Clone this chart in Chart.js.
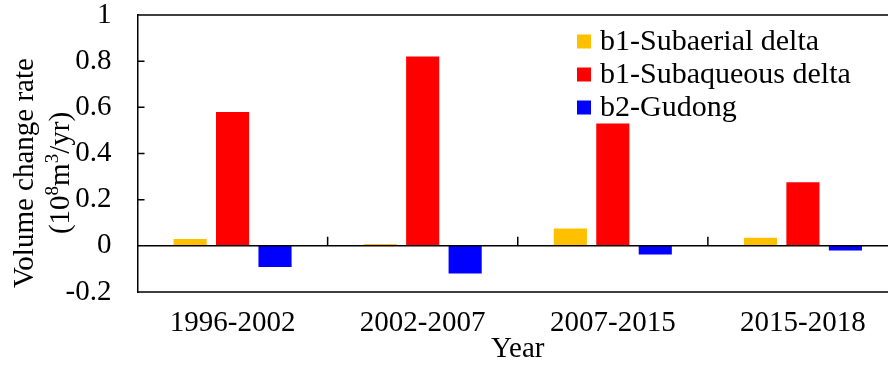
<!DOCTYPE html>
<html>
<head>
<meta charset="utf-8">
<script src="https://cdn.jsdelivr.net/npm/chart.js@4.4.1/dist/chart.umd.min.js"></script>
<style>
  html, body { margin:0; padding:0; background:#fff; overflow:hidden; }
  #wrap { width:888px; height:369px; overflow:hidden; }
</style>
</head>
<body>
<div id="wrap"><canvas id="chart" width="898" height="369"></canvas></div>
<script>
/* Volume change rate per period - grouped bars */
const periods = ['1996-2002', '2002-2007', '2007-2015', '2015-2018'];
const subaerial = [0.03, 0.008, 0.075, 0.035];
const subaqueous = [0.58, 0.82, 0.53, 0.275];
const gudong = [-0.092, -0.12, -0.038, -0.02];
const seriesNames = ['b1-Subaerial delta', 'b1-Subaqueous delta', 'b2-Gudong'];
const seriesColors = ['#FFC000', '#FF0000', '#0000FF'];
const yMin = -0.2, yMax = 1, yStep = 0.2;

const SERIF = '"Liberation Serif", "Times New Roman", serif';

// frame, zero line and inward tick marks
const framePlugin = {
  id: 'frame',
  afterDatasetsDraw(chart){
    const {ctx, chartArea:a, scales:{x, y}} = chart;
    ctx.save();
    ctx.strokeStyle = '#000'; ctx.lineWidth = 1.5;
    const zero = y.getPixelForValue(0);
    ctx.beginPath();
    ctx.moveTo(a.left, a.top); ctx.lineTo(a.right, a.top);
    ctx.moveTo(a.left, a.bottom); ctx.lineTo(a.right, a.bottom);
    ctx.moveTo(a.left, zero); ctx.lineTo(a.right, zero);
    y.ticks.forEach(t=>{
      const py = y.getPixelForValue(t.value);
      ctx.moveTo(a.left, py); ctx.lineTo(a.left + 7, py);
    });
    for(let i=1;i<periods.length;i++){
      const px = (x.getPixelForValue(i-1) + x.getPixelForValue(i)) / 2;
      ctx.moveTo(px, zero); ctx.lineTo(px, zero - 9);
    }
    ctx.stroke();
    ctx.restore();
  }
};

// legend inside the plot, top right
const legendPlugin = {
  id: 'boxLegend',
  afterDraw(chart){
    const {ctx} = chart;
    ctx.save();
    ctx.font = `30px ${SERIF}`;
    ctx.textBaseline = 'middle';
    chart.data.datasets.forEach((ds,i)=>{
      const cy = 41.5 + i*33;
      ctx.fillStyle = ds.backgroundColor;
      ctx.fillRect(577, cy - 7, 14, 14);
      ctx.fillStyle = '#000';
      ctx.fillText(ds.label, 600, cy + 1);
    });
    ctx.restore();
  }
};

// two-line rotated y title with superscripts
const yTitlePlugin = {
  id: 'yTitle',
  afterDraw(chart){
    const {ctx} = chart;
    const size = 29, sup = 19;
    const cy = 173;
    ctx.save();
    ctx.fillStyle = '#000';
    ctx.textBaseline = 'middle';
    ctx.font = `${size}px ${SERIF}`;
    ctx.translate(25, cy); ctx.rotate(-Math.PI/2);
    ctx.textAlign = 'center';
    ctx.fillText('Volume change rate', 0, 0);
    ctx.restore();

    const parts = [['(10',0],['8',1],['m',0],['3',1],['/yr)',0]];
    ctx.save();
    ctx.fillStyle = '#000';
    ctx.textBaseline = 'middle';
    const w = parts.reduce((s,[t,u])=>{ ctx.font = `${u?sup:size}px ${SERIF}`; return s + ctx.measureText(t).width; }, 0);
    ctx.translate(61, cy); ctx.rotate(-Math.PI/2);
    let xx = -w/2;
    parts.forEach(([t,u])=>{
      ctx.font = `${u?sup:size}px ${SERIF}`;
      ctx.fillText(t, xx, u ? -8 : 0);
      xx += ctx.measureText(t).width;
    });
    ctx.restore();
  }
};

const noPad = (s)=>{ s.paddingTop = 0; s.paddingBottom = 0; s.paddingLeft = 0; s.paddingRight = 0; };

new Chart(document.getElementById('chart'), {
  type: 'bar',
  data: {
    labels: periods,
    datasets: [
      { label: seriesNames[0], data: subaerial, backgroundColor: seriesColors[0] },
      { label: seriesNames[1], data: subaqueous, backgroundColor: seriesColors[1] },
      { label: seriesNames[2], data: gudong, backgroundColor: seriesColors[2] },
    ]
  },
  options: {
    responsive: false,
    animation: false,
    devicePixelRatio: 1,
    layout: { padding: { top: 15, right: 0, left: 0, bottom: 0 } },
    datasets: { bar: { categoryPercentage: 0.67, barPercentage: 0.78 } },
    plugins: { legend: { display: false }, tooltip: { enabled: false } },
    scales: {
      x: {
        grid: { display: false, drawTicks: false },
        border: { display: false },
        ticks: { color: '#000', font: { family: SERIF, size: 29 }, padding: 14, maxRotation: 0 },
        title: { display: true, text: 'Year', color: '#000', font: { family: SERIF, size: 29 }, padding: { top: 0, bottom: 2 } },
        afterFit: (s)=>{ s.height = 77; noPad(s); }
      },
      y: {
        min: yMin, max: yMax,
        grid: { display: false, drawTicks: false },
        border: { display: true, color: '#000', width: 1.5 },
        ticks: {
          stepSize: yStep, color: '#000', font: { family: SERIF, size: 29 }, padding: 26,
          callback: (v)=> String(Math.round(v*10)/10)
        },
        afterFit: (s)=>{ s.width = 137.5; noPad(s); }
      }
    }
  },
  plugins: [framePlugin, legendPlugin, yTitlePlugin]
});
</script>
</body>
</html>
